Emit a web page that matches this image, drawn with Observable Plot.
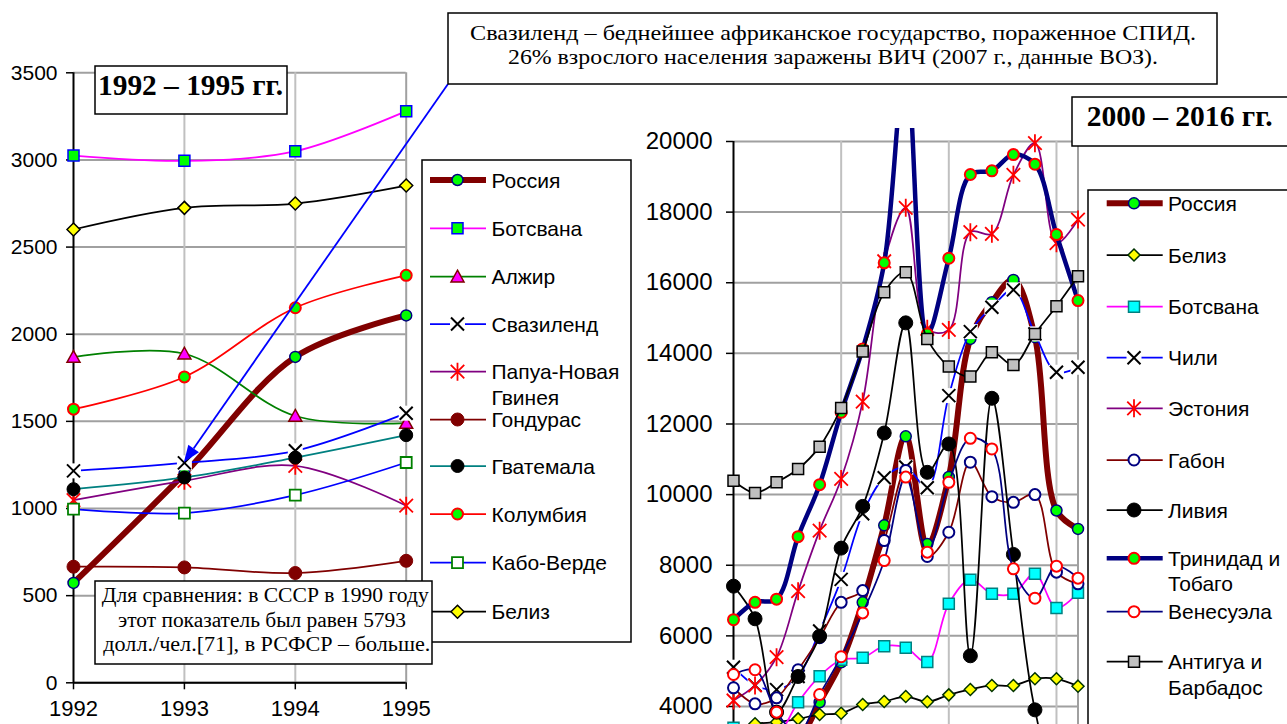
<!DOCTYPE html>
<html><head><meta charset="utf-8">
<script src="https://cdn.jsdelivr.net/npm/d3@7"></script>
<script src="https://cdn.jsdelivr.net/npm/@observablehq/plot@0.6"></script>
<style>
html,body{margin:0;padding:0;background:#fff;width:1287px;height:724px;overflow:hidden}
#wrap{position:relative;width:1287px;height:724px;overflow:hidden}
#wrap > svg{position:absolute;left:0;top:0}
</style></head><body><div id="wrap"></div>
<script>
// ---------- DATA: 1992–1995 ----------
const yearsA = [1992, 1993, 1994, 1995];
const russiaA    = [573, 1200, 1870, 2108];
const botswanaA  = [3025, 2995, 3050, 3280];
const algeriaA   = [1869, 1888, 1531, 1490];
const swazilandA = [1216, 1262, 1331, 1547];
const papuaA     = [1048, 1159, 1245, 1016];
const hondurasA  = [666, 662, 630, 700];
const guatemalaA = [1111, 1178, 1292, 1421];
const colombiaA  = [1570, 1755, 2152, 2338];
const capeVerdeA = [997, 974, 1077, 1264];
const belizeA    = [2601, 2725, 2750, 2853];
const yTicksA = [0, 500, 1000, 1500, 2000, 2500, 3000, 3500];

// ---------- DATA: 2000–2016 ----------
const yearsB = [2000,2001,2002,2003,2004,2005,2006,2007,2008,2009,2010,2011,2012,2013,2014,2015,2016];
const russiaB    = [1770, 2100, 2380, 2975, 4120, 5250, 6950, 9130, 11650, 8600, 10500, 14410, 15450, 16080, 14460, 9550, 9030];
const belizeB    = [3360, 3510, 3555, 3650, 3772, 3810, 4056, 4141, 4282, 4135, 4330, 4482, 4595, 4595, 4784, 4784, 4576];
const botswanaB  = [3400, 3300, 3200, 4122, 4858, 5323, 5380, 5708, 5663, 5257, 6911, 7591, 7195, 7195, 7757, 6787, 7223];
const chileB     = [5113, 4600, 4478, 4850, 6140, 7600, 9459, 10479, 10780, 10195, 12804, 14617, 15306, 15799, 14552, 13465, 13607];
const estoniaB   = [4170, 4595, 5397, 7267, 8980, 10444, 12634, 16609, 18122, 14694, 14665, 17431, 17385, 19056, 19952, 17119, 17790];
const gabonB     = [4530, 4076, 4246, 5040, 5950, 6950, 7283, 8700, 10685, 8248, 8935, 10918, 9943, 9782, 10000, 7804, 7474];
const libyaB     = [7408, 6484, 3839, 4850, 5991, 8485, 9666, 11745, 14864, 10631, 11435, 5436, 12728, 8306, 3905, 2000, 2300];
const trinidadB  = [6458, 6950, 7040, 8810, 10283, 12331, 14127, 16563, 22300, 14552, 16694, 19065, 19170, 19630, 19357, 17365, 15496];
const venezuelaB = [4906, 5040, 3839, 3250, 4340, 5410, 6650, 8133, 10496, 8370, 10349, 11595, 11293, 7898, 7067, 7974, 7634];
const antiguaB   = [10396, 10048, 10349, 10727, 11359, 12455, 14051, 15731, 16297, 14410, 13626, 13343, 14031, 13674, 14552, 15334, 16184];
const yTicksB = [0,2000,4000,6000,8000,10000,12000,14000,16000,18000,20000];

// ---------- symbols ----------
const mk = f => ({draw(c, size){ f(c, Math.sqrt(size / Math.PI)); }});
const SQ = mk((c,r)=>{c.moveTo(-r,-r);c.lineTo(r,-r);c.lineTo(r,r);c.lineTo(-r,r);c.closePath();});
const DI = mk((c,r)=>{c.moveTo(0,-r);c.lineTo(r,0);c.lineTo(0,r);c.lineTo(-r,0);c.closePath();});
const TRI = mk((c,r)=>{c.moveTo(0,-r);c.lineTo(r,r*0.8);c.lineTo(-r,r*0.8);c.closePath();});
const XX = mk((c,r)=>{c.moveTo(-r,-r);c.lineTo(r,r);c.moveTo(-r,r);c.lineTo(r,-r);});
const STAR = mk((c,r)=>{c.moveTo(0,-r);c.lineTo(0,r);const d=r*0.75;c.moveTo(-d,-d);c.lineTo(d,d);c.moveTo(-d,d);c.lineTo(d,-d);});
const CIR = d3.symbolCircle;

const seriesA = [
  {label:["Россия"], v:russiaA, stroke:"#800000", sw:6, sym:CIR, r:5.5, fill:"#00ff00", ms:"#000080", msw:1.5},
  {label:["Ботсвана"], v:botswanaA, stroke:"#ff00ff", sw:1.75, sym:SQ, r:5.5, fill:"#00ff00", ms:"#0000ff", msw:1.5},
  {label:["Алжир"], v:algeriaA, stroke:"#008000", sw:1.75, sym:TRI, r:6.5, fill:"#ff00ff", ms:"#800000", msw:1.5},
  {label:["Свазиленд"], v:swazilandA, stroke:"#0000ff", sw:1.75, sym:XX, r:6.5, fill:"none", ms:"#000000", msw:2, bg:true},
  {label:["Папуа-Новая","Гвинея"], v:papuaA, stroke:"#800080", sw:1.75, sym:STAR, r:9, fill:"none", ms:"#ff0000", msw:1.8},
  {label:["Гондурас"], v:hondurasA, stroke:"#800000", sw:1.75, sym:CIR, r:6.5, fill:"#800000", ms:"#800000", msw:1},
  {label:["Гватемала"], v:guatemalaA, stroke:"#008080", sw:1.75, sym:CIR, r:6.5, fill:"#000000", ms:"#000000", msw:1},
  {label:["Колумбия"], v:colombiaA, stroke:"#ff0000", sw:1.75, sym:CIR, r:5.5, fill:"#00ff00", ms:"#ff0000", msw:2},
  {label:["Кабо-Верде"], v:capeVerdeA, stroke:"#0000ff", sw:1.75, sym:SQ, r:5.5, fill:"#ffffff", ms:"#008000", msw:1.8},
  {label:["Белиз"], v:belizeA, stroke:"#000000", sw:1.75, sym:DI, r:6.5, fill:"#ffff00", ms:"#000000", msw:1.5}
];
const seriesB = [
  {label:["Россия"], v:russiaB, stroke:"#800000", sw:6, sym:CIR, r:5.5, fill:"#00ff00", ms:"#000080", msw:1.5},
  {label:["Белиз"], v:belizeB, stroke:"#000000", sw:1.75, sym:DI, r:6, fill:"#ffff00", ms:"#003300", msw:1.5},
  {label:["Ботсвана"], v:botswanaB, stroke:"#ff00ff", sw:1.75, sym:SQ, r:5.5, fill:"#00ffff", ms:"#008080", msw:1.5},
  {label:["Чили"], v:chileB, stroke:"#0000ff", sw:1.75, sym:XX, r:6.5, fill:"none", ms:"#000000", msw:2, bg:true},
  {label:["Эстония"], v:estoniaB, stroke:"#800080", sw:1.75, sym:STAR, r:9, fill:"none", ms:"#ff0000", msw:1.8},
  {label:["Габон"], v:gabonB, stroke:"#800000", sw:1.75, sym:CIR, r:5.5, fill:"#ffffff", ms:"#000080", msw:2},
  {label:["Ливия"], v:libyaB, stroke:"#000000", sw:1.75, sym:CIR, r:7, fill:"#000000", ms:"#000000", msw:1},
  {label:["Тринидад и","Тобаго"], v:trinidadB, stroke:"#000080", sw:4.5, sym:CIR, r:5.5, fill:"#00ff00", ms:"#ff0000", msw:2, clip:true},
  {label:["Венесуэла"], v:venezuelaB, stroke:"#000080", sw:1.75, sym:CIR, r:5.5, fill:"#ffffff", ms:"#ff0000", msw:2},
  {label:["Антигуа и","Барбадос"], v:antiguaB, stroke:"#000000", sw:1.75, sym:SQ, r:5.5, fill:"#c0c0c0", ms:"#000000", msw:1.5}
];

function seriesMarks(series, years){
  const out = [];
  for (const s of series){
    const rows = years.map((yr,i)=>({year:yr, value:s.v[i]}));
    out.push(Plot.line(rows, {x:"year", y:"value", stroke:s.stroke, strokeWidth:s.sw, curve:"catmull-rom", clip: !!s.clip}));
    if (s.bg) out.push(Plot.dot(rows, {x:"year", y:"value", symbol:SQ, r:7.5, fill:"#ffffff", stroke:"none"}));
    out.push(Plot.dot(rows, {x:"year", y:"value", symbol:s.sym, r:s.r, fill:s.fill, stroke:s.ms, strokeWidth:s.msw}));
  }
  return out;
}

const wrap = document.getElementById("wrap");
const FONT = "'Liberation Sans', Arial, sans-serif";

// ---------- right chart (2000–2016) ----------
const rightPlot = Plot.plot({
  width: 1287, height: 888,
  marginLeft: 733, marginRight: 1287 - 1077.5, marginTop: 128, marginBottom: 888 - 847.25,
  x: {domain: [2000, 2016], axis: null},
  y: {domain: [0, 20368]},
  style: {fontFamily: FONT, color: "#000", background: "transparent", overflow: "visible"},
  marks: [
    Plot.gridY({ticks: yTicksB, stroke: "#a0a0a0", strokeOpacity: 1, strokeWidth: 2}),
    Plot.gridX({ticks: [2005, 2010, 2015], y1: 0, y2: 20000, stroke: "#c0c0c0", strokeOpacity: 1, strokeWidth: 2}),
    Plot.ruleX([2016], {y1: 0, y2: 20000, stroke: "#a0a0a0", strokeWidth: 2}),
    Plot.ruleX([2000], {y1: 0, y2: 20000, stroke: "#000", strokeWidth: 2}),
    Plot.axisY({ticks: yTicksB, tickFormat: d3.format("d"), tickSize: 7, tickPadding: 14, fontSize: 24, strokeWidth: 1.5, label: null}),
    ...seriesMarks(seriesB, yearsB)
  ]
});
wrap.appendChild(rightPlot);

// ---------- left chart (1992–1995) ----------
const leftPlot = Plot.plot({
  width: 420, height: 724,
  marginLeft: 73, marginRight: 14.3, marginTop: 72.3, marginBottom: 724 - 682.3,
  x: {domain: [1992, 1995]},
  y: {domain: [0, 3500]},
  style: {fontFamily: FONT, color: "#000", background: "transparent", overflow: "visible"},
  marks: [
    Plot.gridY({ticks: yTicksA, stroke: "#a0a0a0", strokeOpacity: 1, strokeWidth: 2}),
    Plot.gridX({ticks: [1993, 1994], stroke: "#c0c0c0", strokeOpacity: 1, strokeWidth: 2}),
    Plot.ruleX([1995], {stroke: "#a0a0a0", strokeWidth: 2}),
    Plot.ruleX([1992], {stroke: "#000", strokeWidth: 2}),
    Plot.ruleY([0], {stroke: "#000", strokeWidth: 2}),
    Plot.axisY({ticks: yTicksA, tickFormat: d3.format("d"), tickSize: 7, tickPadding: 9, fontSize: 21, strokeWidth: 1.5, label: null}),
    Plot.axisX({ticks: yearsA, tickFormat: d3.format("d"), tickSize: 7, tickPadding: 11, fontSize: 22, strokeWidth: 1.5, label: null}),
    ...seriesMarks(seriesA, yearsA)
  ]
});
wrap.appendChild(leftPlot);

// ---------- overlay: legends, boxes, arrow ----------
const ov = d3.select(wrap).append("svg").attr("width", 1287).attr("height", 724)
  .style("font-family", FONT);

function legend(series, box, x1, x2, xm, tx, ys){
  ov.append("rect").attr("x", box[0]).attr("y", box[1]).attr("width", box[2]).attr("height", box[3])
    .attr("fill", "#fff").attr("stroke", "#000").attr("stroke-width", 1.5);
  series.forEach((s, i) => {
    const yc = ys[i];
    ov.append("line").attr("x1", x1).attr("x2", x2).attr("y1", yc).attr("y2", yc)
      .attr("stroke", s.stroke).attr("stroke-width", s.sw);
    if (s.bg) ov.append("path").attr("d", d3.symbol(SQ, Math.PI*7.5*7.5)()).attr("transform", `translate(${xm},${yc})`).attr("fill", "#fff");
    ov.append("path").attr("d", d3.symbol(s.sym, Math.PI*s.r*s.r)()).attr("transform", `translate(${xm},${yc})`)
      .attr("fill", s.fill).attr("stroke", s.ms).attr("stroke-width", s.msw);
    s.label.forEach((t, j) => {
      ov.append("text").attr("x", tx).attr("y", yc + 7.5 + j*25.5).attr("font-size", 21).attr("fill", "#000").text(t);
    });
  });
}
legend(seriesA, [422, 160, 209, 482], 430, 486, 457.5, 491.5,
  [180, 228.3, 276.7, 324, 371.7, 419.5, 466, 514, 562.7, 611.7]);
legend(seriesB, [1088, 190, 230, 560], 1106.7, 1162.7, 1134, 1168,
  [203.3, 255, 306.7, 357.7, 408.3, 460, 510, 558.3, 611.7, 661.7]);

function box(x, y, w, h){
  ov.append("rect").attr("x", x).attr("y", y).attr("width", w).attr("height", h)
    .attr("fill", "#fff").attr("stroke", "#000").attr("stroke-width", 1.5);
}
function stext(t, x, y, len, size, bold){
  ov.append("text").attr("x", x).attr("y", y).attr("font-family", "'Liberation Serif', 'Times New Roman', serif")
    .attr("font-size", size).attr("font-weight", bold ? "bold" : "normal").attr("fill", "#000")
    .attr("textLength", len).attr("lengthAdjust", "spacingAndGlyphs").text(t);
}
// titles
box(95, 66, 192, 48);
stext("1992 – 1995 гг.", 98, 95, 185, 30, true);
box(1072, 97, 240, 49);
stext("2000 – 2016 гг.", 1086.7, 125.7, 186, 30, true);
// note box
box(95, 581, 337, 83);
stext("Для сравнения: в СССР в 1990 году", 101.7, 601.7, 327, 20, false);
stext("этот показатель был равен 5793", 118, 626.7, 288, 20, false);
stext("долл./чел.[71], в РСФСР –  больше.", 103.3, 650.7, 327, 20, false);
// arrow from top note to Swaziland 1993
const sx = leftPlot.scale("x"), sy = leftPlot.scale("y");
const tipX = sx.apply(1993), tipY = sy.apply(swazilandA[1]);
const startX = 448, startY = 84;
const ang = Math.atan2(tipY - startY, tipX - startX);
const L = 17, W = 6.5;
const bx = tipX - L*Math.cos(ang), by = tipY - L*Math.sin(ang);
ov.append("line").attr("x1", startX).attr("y1", startY).attr("x2", bx).attr("y2", by)
  .attr("stroke", "#0000ff").attr("stroke-width", 1.8);
ov.append("path").attr("d", `M${tipX},${tipY}L${bx - W*Math.sin(ang)},${by + W*Math.cos(ang)}L${bx + W*Math.sin(ang)},${by - W*Math.cos(ang)}Z`)
  .attr("fill", "#0000ff");
// top note box
box(448, 13, 769, 71);
stext("Свазиленд – беднейшее африканское государство, пораженное СПИД.", 470, 40, 726, 21, false);
stext("26% взрослого населения заражены ВИЧ (2007 г., данные ВОЗ).", 508, 63.5, 650, 21, false);
</script>
</body></html>
